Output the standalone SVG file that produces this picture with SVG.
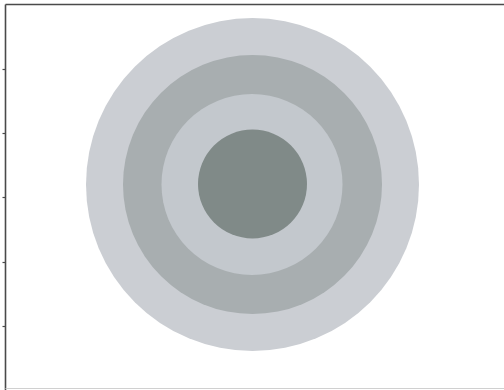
<svg xmlns="http://www.w3.org/2000/svg" width="504" height="390" viewBox="0 0 504 390">
<style>
.frame{stroke:#4a4a4a;stroke-width:1.6;fill:none}
.tick{stroke:#4a4a4a;stroke-width:1.2}
</style>
<rect width="504" height="390" fill="#ffffff"/>
<g id="frame">
<line class="frame" x1="5.5" y1="4.5" x2="504" y2="4.5"/>
<line class="frame" x1="5.5" y1="4.5" x2="5.5" y2="390"/>
<line x1="5.5" y1="388.5" x2="504" y2="388.5" stroke="#d0d0d0" stroke-width="1"/>
<line class="tick" x1="2.5" y1="69.5" x2="5.5" y2="69.5"/>
<line class="tick" x1="2.5" y1="133.5" x2="5.5" y2="133.5"/>
<line class="tick" x1="2.5" y1="197.5" x2="5.5" y2="197.5"/>
<line class="tick" x1="2.5" y1="262.5" x2="5.5" y2="262.5"/>
<line class="tick" x1="2.5" y1="326.5" x2="5.5" y2="326.5"/>
</g>
<g id="ring-outer"><circle cx="252.5" cy="184.5" r="166.5" fill="#cbced3"/></g>
<g id="ring-2"><circle cx="252.5" cy="184.5" r="129.5" fill="#a8aeb0"/></g>
<g id="ring-3"><circle cx="252" cy="184.5" r="90.5" fill="#c3c8cd"/></g>
<g id="ring-inner"><circle cx="252.5" cy="184" r="54.5" fill="#808a88"/></g>
</svg>
